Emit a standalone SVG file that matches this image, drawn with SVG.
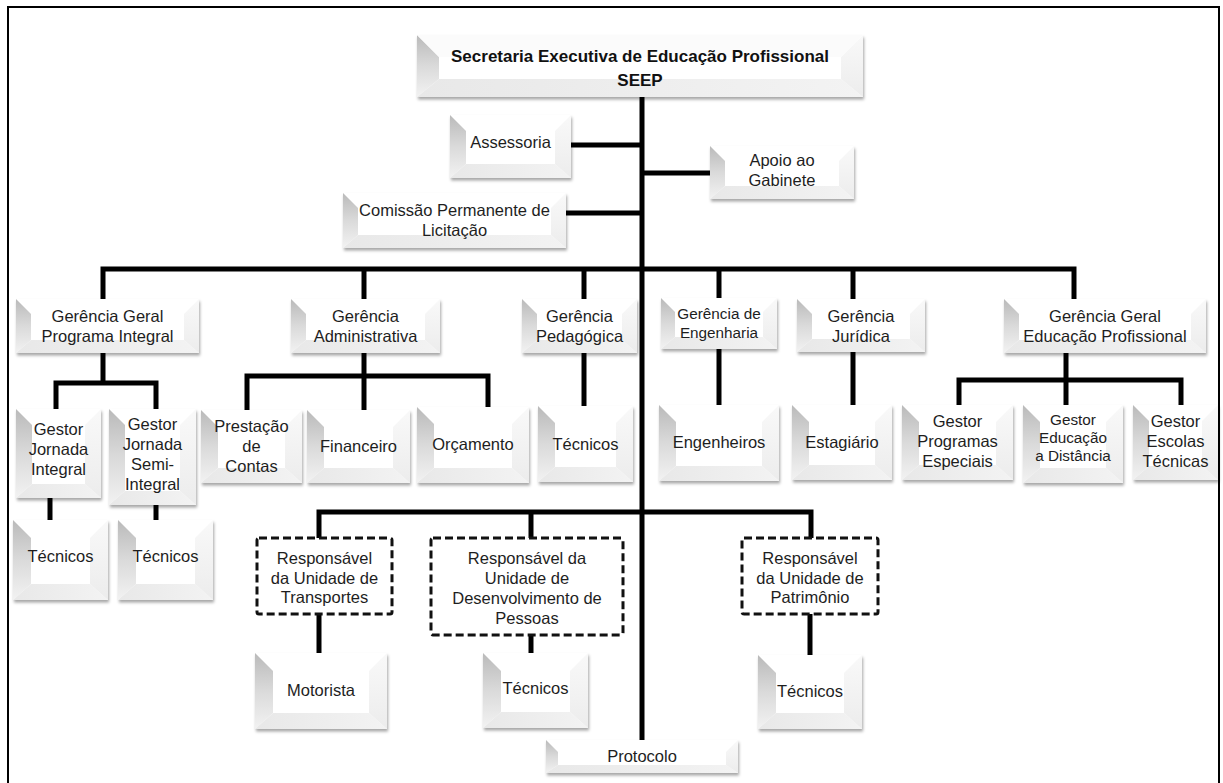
<svg xmlns="http://www.w3.org/2000/svg" width="1223" height="783" viewBox="0 0 1223 783">
<defs>
<linearGradient id="gl" x1="0" y1="0" x2="0" y2="1"><stop offset="0" stop-color="#bababa"/><stop offset="0.5" stop-color="#dadada"/><stop offset="1" stop-color="#f2f2f2"/></linearGradient>
<linearGradient id="gb" x1="0" y1="0" x2="1" y2="0"><stop offset="0" stop-color="#e8e8e8"/><stop offset="1" stop-color="#f3f3f3"/></linearGradient>
<linearGradient id="gr" x1="0" y1="0" x2="0" y2="1"><stop offset="0" stop-color="#f9f9f9"/><stop offset="1" stop-color="#ececec"/></linearGradient>
<filter id="sh" x="-10%" y="-10%" width="125%" height="135%"><feDropShadow dx="1" dy="2.5" stdDeviation="1.6" flood-color="#000" flood-opacity="0.35"/></filter>
</defs>
<style>
.box{fill:#fff;filter:url(#sh)}
.lf{fill:url(#gl)}
.bf{fill:url(#gb)}
.rf{fill:url(#gr)}
.t{font-family:"Liberation Sans",Arial,sans-serif;font-size:16.5px;fill:#1e1e1e;text-anchor:middle}
.s{font-size:15.3px}
.b{font-weight:bold;font-size:17px;fill:#111}
.dash{fill:#fff;stroke:#111;stroke-width:3;stroke-dasharray:8 4}
.con{fill:none;stroke:#000;stroke-width:5;stroke-linejoin:miter}
.frame{fill:none;stroke:#000;stroke-width:2}
</style>
<rect width="1223" height="783" fill="#fff"/>
<path class="frame" d="M8,783 V7 H1219 V783"/>

<g id="connectors">
<path class="con" d="M642,97 V740"/>
<path class="con" d="M571,145 H642"/>
<path class="con" d="M642,173 H710"/>
<path class="con" d="M566,213 H642"/>
<path class="con" d="M103,299 V269 H1074 V299"/>
<path class="con" d="M364,269 V299"/>
<path class="con" d="M584,269 V299"/>
<path class="con" d="M719,269 V298"/>
<path class="con" d="M853,269 V299"/>
<path class="con" d="M103,353 V383"/>
<path class="con" d="M56,409 V383 H156 V409"/>
<path class="con" d="M364,353 V410"/>
<path class="con" d="M247,410 V376 H488 V407"/>
<path class="con" d="M50,498 V520"/>
<path class="con" d="M156,505 V520"/>
<path class="con" d="M584,353 V406"/>
<path class="con" d="M719,349 V405"/>
<path class="con" d="M853,352 V405"/>
<path class="con" d="M1066,353 V405"/>
<path class="con" d="M959,405 V380 H1181 V405"/>
<path class="con" d="M319,538 V512 H811 V538"/>
<path class="con" d="M531,512 V538"/>
<path class="con" d="M319,614 V653"/>
<path class="con" d="M531,635 V653"/>
<path class="con" d="M810,614 V655"/>
</g>

<g id="seep" transform="translate(417,35)">
<rect class="box" width="446" height="62"/>
<polygon class="lf" points="0,0 22,22 22,44 0,62"/>
<polygon class="bf" points="0,62 22,44 424,44 446,62"/>
<polygon class="rf" points="446,0 424,22 424,44 446,62"/>
<polygon points="0,0 446,0 424,22 22,22" fill="#fbfbfb"/>
<text class="t b" x="223" y="27">Secretaria Executiva de Educação Profissional</text>
<text class="t b" x="223" y="51">SEEP</text>
</g>

<g id="assessoria" transform="translate(450,115)">
<rect class="box" width="121" height="63"/>
<polygon class="lf" points="0,0 16,16 16,49 0,63"/>
<polygon class="bf" points="0,63 16,49 105,49 121,63"/>
<polygon class="rf" points="121,0 105,16 105,49 121,63"/>
<text class="t" x="60.5" y="33">Assessoria</text>
</g>

<g id="apoio" transform="translate(710,146)">
<rect class="box" width="144" height="53"/>
<polygon class="lf" points="0,0 15,15 15,40 0,53"/>
<polygon class="bf" points="0,53 15,40 129,40 144,53"/>
<polygon class="rf" points="144,0 129,15 129,40 144,53"/>
<text class="t" x="72" y="20">Apoio ao</text>
<text class="t" x="72" y="40">Gabinete</text>
</g>

<g id="comissao" transform="translate(343,193)">
<rect class="box" width="223" height="55"/>
<polygon class="lf" points="0,0 15,15 15,42 0,55"/>
<polygon class="bf" points="0,55 15,42 208,42 223,55"/>
<polygon class="rf" points="223,0 208,15 208,42 223,55"/>
<text class="t" x="111.5" y="23">Comissão Permanente de</text>
<text class="t" x="111.5" y="43">Licitação</text>
</g>

<g id="ggpi" transform="translate(16,299)">
<rect class="box" width="183" height="54"/>
<polygon class="lf" points="0,0 15,15 15,41 0,54"/>
<polygon class="bf" points="0,54 15,41 168,41 183,54"/>
<polygon class="rf" points="183,0 168,15 168,41 183,54"/>
<text class="t" x="91.5" y="23">Gerência Geral</text>
<text class="t" x="91.5" y="43">Programa Integral</text>
</g>

<g id="ga" transform="translate(291,299)">
<rect class="box" width="149" height="54"/>
<polygon class="lf" points="0,0 15,15 15,41 0,54"/>
<polygon class="bf" points="0,54 15,41 134,41 149,54"/>
<polygon class="rf" points="149,0 134,15 134,41 149,54"/>
<text class="t" x="74.5" y="23">Gerência</text>
<text class="t" x="74.5" y="43">Administrativa</text>
</g>

<g id="gp" transform="translate(522,299)">
<rect class="box" width="115" height="54"/>
<polygon class="lf" points="0,0 15,15 15,41 0,54"/>
<polygon class="bf" points="0,54 15,41 100,41 115,54"/>
<polygon class="rf" points="115,0 100,15 100,41 115,54"/>
<text class="t" x="57.5" y="23">Gerência</text>
<text class="t" x="57.5" y="43">Pedagógica</text>
</g>

<g id="ge" transform="translate(661,298)">
<rect class="box" width="116" height="51"/>
<polygon class="lf" points="0,0 14,14 14,39 0,51"/>
<polygon class="bf" points="0,51 14,39 102,39 116,51"/>
<polygon class="rf" points="116,0 102,14 102,39 116,51"/>
<text class="t s" x="58" y="21">Gerência de</text>
<text class="t s" x="58" y="40">Engenharia</text>
</g>

<g id="gj" transform="translate(797,299)">
<rect class="box" width="128" height="53"/>
<polygon class="lf" points="0,0 15,15 15,40 0,53"/>
<polygon class="bf" points="0,53 15,40 113,40 128,53"/>
<polygon class="rf" points="128,0 113,15 113,40 128,53"/>
<text class="t" x="64" y="23">Gerência</text>
<text class="t" x="64" y="43">Jurídica</text>
</g>

<g id="ggep" transform="translate(1004,299)">
<rect class="box" width="202" height="54"/>
<polygon class="lf" points="0,0 15,15 15,41 0,54"/>
<polygon class="bf" points="0,54 15,41 187,41 202,54"/>
<polygon class="rf" points="202,0 187,15 187,41 202,54"/>
<text class="t" x="101" y="23">Gerência Geral</text>
<text class="t" x="101" y="43">Educação Profissional</text>
</g>

<g id="gji" transform="translate(16,409)">
<rect class="box" width="85" height="89"/>
<polygon class="lf" points="0,0 16,16 16,75 0,89"/>
<polygon class="bf" points="0,89 16,75 69,75 85,89"/>
<polygon class="rf" points="85,0 69,16 69,75 85,89"/>
<text class="t" x="42.5" y="26">Gestor</text>
<text class="t" x="42.5" y="46">Jornada</text>
<text class="t" x="42.5" y="66">Integral</text>
</g>

<g id="gjsi" transform="translate(109,409)">
<rect class="box" width="87" height="96"/>
<polygon class="lf" points="0,0 16,16 16,82 0,96"/>
<polygon class="bf" points="0,96 16,82 71,82 87,96"/>
<polygon class="rf" points="87,0 71,16 71,82 87,96"/>
<text class="t" x="43.5" y="21">Gestor</text>
<text class="t" x="43.5" y="41">Jornada</text>
<text class="t" x="43.5" y="61">Semi-</text>
<text class="t" x="43.5" y="81">Integral</text>
</g>

<g id="tec1" transform="translate(13,520)">
<rect class="box" width="95" height="80"/>
<polygon class="lf" points="0,0 18,18 18,64 0,80"/>
<polygon class="bf" points="0,80 18,64 77,64 95,80"/>
<polygon class="rf" points="95,0 77,18 77,64 95,80"/>
<text class="t" x="47.5" y="42">Técnicos</text>
</g>

<g id="tec2" transform="translate(118,520)">
<rect class="box" width="95" height="80"/>
<polygon class="lf" points="0,0 18,18 18,64 0,80"/>
<polygon class="bf" points="0,80 18,64 77,64 95,80"/>
<polygon class="rf" points="95,0 77,18 77,64 95,80"/>
<text class="t" x="47.5" y="42">Técnicos</text>
</g>

<g id="prestacao" transform="translate(201,410)">
<rect class="box" width="101" height="73"/>
<polygon class="lf" points="0,0 17,17 17,58 0,73"/>
<polygon class="bf" points="0,73 17,58 84,58 101,73"/>
<polygon class="rf" points="101,0 84,17 84,58 101,73"/>
<text class="t" x="50.5" y="22">Prestação</text>
<text class="t" x="50.5" y="42">de</text>
<text class="t" x="50.5" y="62">Contas</text>
</g>

<g id="financeiro" transform="translate(307,410)">
<rect class="box" width="103" height="73"/>
<polygon class="lf" points="0,0 17,17 17,58 0,73"/>
<polygon class="bf" points="0,73 17,58 86,58 103,73"/>
<polygon class="rf" points="103,0 86,17 86,58 103,73"/>
<text class="t" x="51.5" y="42">Financeiro</text>
</g>

<g id="orcamento" transform="translate(417,407)">
<rect class="box" width="112" height="76"/>
<polygon class="lf" points="0,0 17,17 17,61 0,76"/>
<polygon class="bf" points="0,76 17,61 95,61 112,76"/>
<polygon class="rf" points="112,0 95,17 95,61 112,76"/>
<text class="t" x="56" y="43">Orçamento</text>
</g>

<g id="tecp" transform="translate(538,406)">
<rect class="box" width="95" height="76"/>
<polygon class="lf" points="0,0 17,17 17,61 0,76"/>
<polygon class="bf" points="0,76 17,61 78,61 95,76"/>
<polygon class="rf" points="95,0 78,17 78,61 95,76"/>
<text class="t" x="47.5" y="44">Técnicos</text>
</g>

<g id="engenheiros" transform="translate(659,405)">
<rect class="box" width="120" height="76"/>
<polygon class="lf" points="0,0 17,17 17,61 0,76"/>
<polygon class="bf" points="0,76 17,61 103,61 120,76"/>
<polygon class="rf" points="120,0 103,17 103,61 120,76"/>
<text class="t" x="60" y="43">Engenheiros</text>
</g>

<g id="estagiario" transform="translate(792,405)">
<rect class="box" width="100" height="75"/>
<polygon class="lf" points="0,0 17,17 17,60 0,75"/>
<polygon class="bf" points="0,75 17,60 83,60 100,75"/>
<polygon class="rf" points="100,0 83,17 83,60 100,75"/>
<text class="t" x="50" y="43">Estagiário</text>
</g>

<g id="gpe" transform="translate(902,405)">
<rect class="box" width="111" height="75"/>
<polygon class="lf" points="0,0 17,17 17,60 0,75"/>
<polygon class="bf" points="0,75 17,60 94,60 111,75"/>
<polygon class="rf" points="111,0 94,17 94,60 111,75"/>
<text class="t" x="55.5" y="22">Gestor</text>
<text class="t" x="55.5" y="42">Programas</text>
<text class="t" x="55.5" y="62">Especiais</text>
</g>

<g id="gead" transform="translate(1023,405)">
<rect class="box" width="100" height="78"/>
<polygon class="lf" points="0,0 17,17 17,63 0,78"/>
<polygon class="bf" points="0,78 17,63 83,63 100,78"/>
<polygon class="rf" points="100,0 83,17 83,63 100,78"/>
<text class="t s" x="50" y="20">Gestor</text>
<text class="t s" x="50" y="38">Educação</text>
<text class="t s" x="50" y="56">a Distância</text>
</g>

<g id="get" transform="translate(1133,405)">
<rect class="box" width="85" height="75"/>
<polygon class="lf" points="0,0 16,16 16,61 0,75"/>
<polygon class="bf" points="0,75 16,61 69,61 85,75"/>
<polygon class="rf" points="85,0 69,16 69,61 85,75"/>
<text class="t" x="42.5" y="22">Gestor</text>
<text class="t" x="42.5" y="42">Escolas</text>
<text class="t" x="42.5" y="62">Técnicas</text>
</g>

<g id="transportes">
<rect class="dash" x="257" y="538" width="135" height="76" rx="2"/>
<text class="t" x="324.5" y="564">Responsável</text>
<text class="t" x="324.5" y="583.5">da Unidade de</text>
<text class="t" x="324.5" y="603">Transportes</text>
</g>

<g id="desenvolvimento">
<rect class="dash" x="431" y="538" width="192" height="97" rx="2"/>
<text class="t" x="527" y="564">Responsável da</text>
<text class="t" x="527" y="584">Unidade de</text>
<text class="t" x="527" y="604">Desenvolvimento de</text>
<text class="t" x="527" y="624">Pessoas</text>
</g>

<g id="patrimonio">
<rect class="dash" x="742" y="538" width="136" height="76" rx="2"/>
<text class="t" x="810" y="564">Responsável</text>
<text class="t" x="810" y="583.5">da Unidade de</text>
<text class="t" x="810" y="603">Patrimônio</text>
</g>

<g id="motorista" transform="translate(255,653)">
<rect class="box" width="132" height="76"/>
<polygon class="lf" points="0,0 18,18 18,60 0,76"/>
<polygon class="bf" points="0,76 18,60 114,60 132,76"/>
<polygon class="rf" points="132,0 114,18 114,60 132,76"/>
<text class="t" x="66" y="43">Motorista</text>
</g>

<g id="tecd" transform="translate(483,653)">
<rect class="box" width="105" height="75"/>
<polygon class="lf" points="0,0 18,18 18,59 0,75"/>
<polygon class="bf" points="0,75 18,59 87,59 105,75"/>
<polygon class="rf" points="105,0 87,18 87,59 105,75"/>
<text class="t" x="52.5" y="41">Técnicos</text>
</g>

<g id="tecpat" transform="translate(758,655)">
<rect class="box" width="104" height="74"/>
<polygon class="lf" points="0,0 18,18 18,58 0,74"/>
<polygon class="bf" points="0,74 18,58 86,58 104,74"/>
<polygon class="rf" points="104,0 86,18 86,58 104,74"/>
<text class="t" x="52" y="42">Técnicos</text>
</g>

<g id="protocolo" transform="translate(546,740)">
<rect class="box" width="192" height="33"/>
<polygon class="lf" points="0,0 12,12 12,25 0,33"/>
<polygon class="bf" points="0,33 12,25 180,25 192,33"/>
<polygon class="rf" points="192,0 180,12 180,25 192,33"/>
<text class="t" x="96" y="22">Protocolo</text>
</g>
</svg>
